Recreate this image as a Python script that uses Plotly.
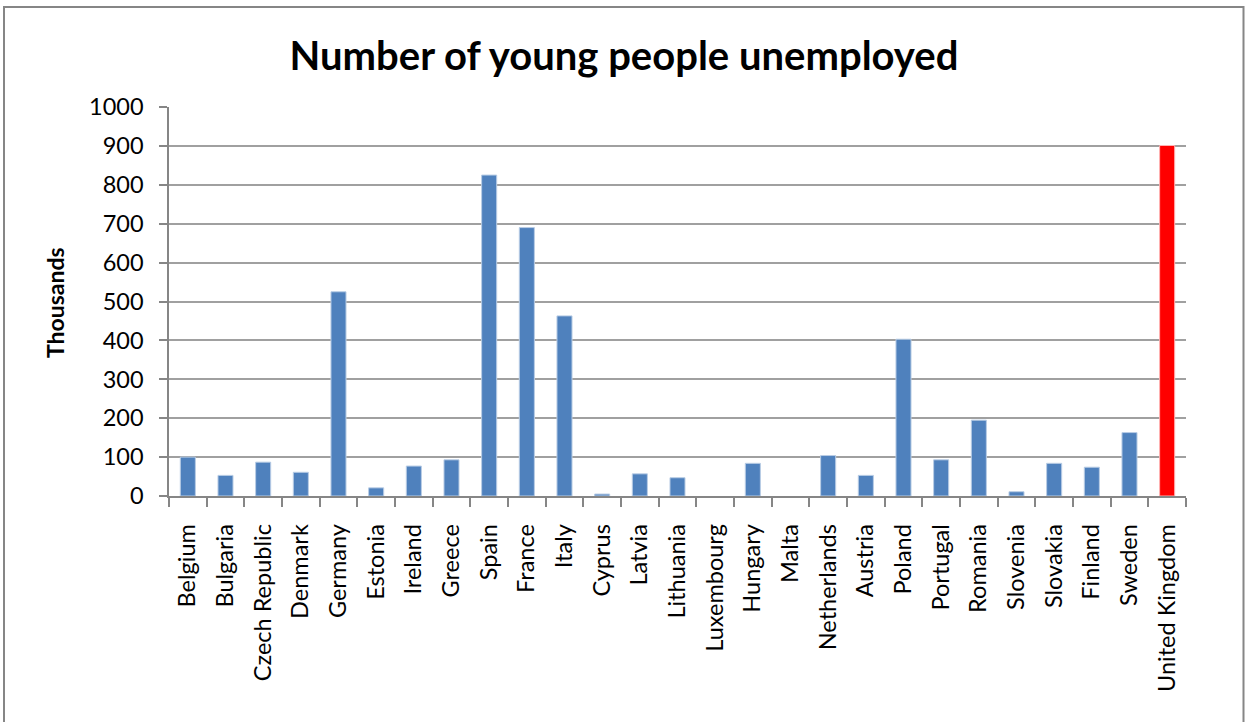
import plotly.graph_objects as go

# Young people unemployed, by country (thousands)
countries = [
    "Belgium", "Bulgaria", "Czech Republic", "Denmark", "Germany", "Estonia",
    "Ireland", "Greece", "Spain", "France", "Italy", "Cyprus", "Latvia",
    "Lithuania", "Luxembourg", "Hungary", "Malta", "Netherlands", "Austria",
    "Poland", "Portugal", "Romania", "Slovenia", "Slovakia", "Finland",
    "Sweden", "United Kingdom",
]
unemployed = [
    100, 53, 87, 61, 525, 21,
    77, 93, 825, 690, 463, 5, 57,
    47, None, 84, None, 104, 53,
    403, 93, 195, 11, 84, 74,
    163, 901,
]
y_ticks = [0, 100, 200, 300, 400, 500, 600, 700, 800, 900, 1000]

highlight = "United Kingdom"
fill = ["#FF0000" if c == highlight else "#4F81BD" for c in countries]
edge = ["#FFB3B3" if c == highlight else "#B9CDE5" for c in countries]

W, H = 1245, 722
L, R, T, B = 169, 59, 107, 226
pw, ph = W - L - R, H - T - B

fig = go.Figure(
    go.Bar(
        x=countries,
        y=unemployed,
        marker=dict(color=fill, line=dict(color=edge, width=1)),
    )
)

font = "Lato, Carlito, Calibri, sans-serif"

fig.update_layout(
    width=W,
    height=H,
    margin=dict(l=L, r=R, t=T, b=B),
    paper_bgcolor="white",
    plot_bgcolor="white",
    bargap=0.6,
    showlegend=False,
    font=dict(family=font, size=23, color="#000000"),
    title=dict(
        text="<b>Number of young people unemployed</b>",
        font=dict(family=font, size=40, color="#000000"),
        x=624 / W,
        xref="container",
        xanchor="center",
        y=1 - 56 / H,
        yref="container",
        yanchor="middle",
    ),
)

fig.update_xaxes(
    type="category",
    tickangle=-90,
    tickson="boundaries",
    ticks="outside",
    ticklen=9,
    tickcolor="#868686",
    tickwidth=1.5,
    showline=True,
    linecolor="#868686",
    linewidth=1.5,
    showgrid=False,
    ticklabelstandoff=17,
    tickfont=dict(family=font, size=23.5, color="#000000"),
)

fig.update_yaxes(
    range=[0, 1000],
    tickvals=y_ticks,
    ticks="outside",
    ticklen=8,
    tickcolor="#868686",
    tickwidth=1.5,
    showline=True,
    linecolor="#868686",
    linewidth=1.5,
    showgrid=True,
    gridcolor="#A0A0A0",
    gridwidth=1.5,
    zeroline=False,
    ticklabelstandoff=11,
    tickfont=dict(family=font, size=23.5, color="#000000"),
)

# Y axis title
fig.add_annotation(
    text="<b>Thousands</b>",
    xref="paper",
    yref="paper",
    x=(55 - L) / pw,
    y=(H - B - 303) / ph,
    textangle=-90,
    showarrow=False,
    xanchor="center",
    yanchor="middle",
    font=dict(family=font, size=23, color="#000000"),
)

# Chart frame
fig.add_shape(
    type="rect",
    xref="paper",
    yref="paper",
    x0=(4 - L) / pw,
    x1=(1243.5 - L) / pw,
    y0=(H - B - 730) / ph,
    y1=(H - B - 7) / ph,
    line=dict(color="#868686", width=2),
    fillcolor="rgba(0,0,0,0)",
    layer="below",
)

fig.write_html("out.html")
